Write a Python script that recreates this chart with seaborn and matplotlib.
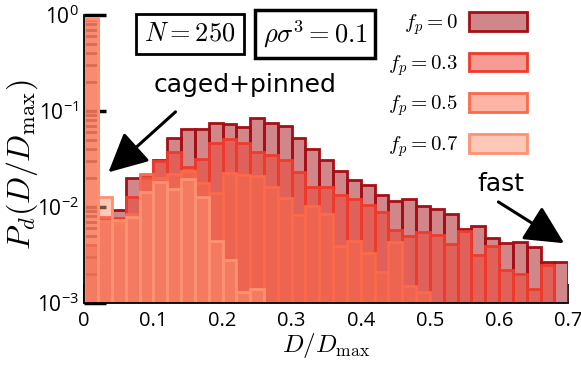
import numpy as np
import pandas as pd
import matplotlib
matplotlib.use("Agg")
import matplotlib.pyplot as plt
import seaborn as sns

# bin heights, bins of width 0.02 from 0 to 0.7
edges = [round(0.02 * i, 2) for i in range(36)]
centers = [(a + b) / 2 for a, b in zip(edges[:-1], edges[1:])]

p_fp0 = [0.004, 0.0075, 0.0093, 0.020, 0.0206, 0.031, 0.052, 0.065, 0.065, 0.075,
         0.073, 0.068, 0.084, 0.075, 0.070, 0.052, 0.040, 0.031, 0.024, 0.019,
         0.0169, 0.0135, 0.0116, 0.0121, 0.0103, 0.0095, 0.0085, 0.0059, 0.0063, 0.0048,
         0.0042, 0.0043, 0.0038, 0.0027, 0.0027]
p_fp3 = [0.88, 0.0079, 0.0077, 0.0127, 0.0200, 0.030, 0.037, 0.026, 0.0316, 0.047,
         0.051, 0.047, 0.037, 0.035, 0.031, 0.023, 0.0162, 0.0162, 0.0133, 0.0121,
         0.0105, 0.0089, 0.0057, 0.0050, 0.0055, 0.0051, 0.0041, 0.0056, 0.0032, 0.0039,
         0.0022, 0.0020, 0.0014, 0.0025, 0.0]
p_fp5 = [0.90, 0.0072, 0.0069, 0.0085, 0.022, 0.020, 0.022, 0.024, 0.018, 0.014,
         0.0225, 0.0216, 0.021, 0.0162, 0.0124, 0.0083, 0.0103, 0.0085, 0.0039, 0.0044,
         0.0033, 0.0021, 0.0043, 0.0015, 0.0013, 0.0, 0.0, 0.0, 0.0, 0.0,
         0.0, 0.0, 0.0, 0.0, 0.0]
p_fp7 = [0.92, 0.0127, 0.0074, 0.0079, 0.0144, 0.0183, 0.0154, 0.0194, 0.0127, 0.0044,
         0.0028, 0.0013, 0.0014, 0.0, 0.0, 0.0, 0.0, 0.0, 0.0, 0.0,
         0.0, 0.0, 0.0, 0.0, 0.0, 0.0, 0.0, 0.0, 0.0, 0.0,
         0.0, 0.0, 0.0, 0.0, 0.0]

labels = ["$f_p = 0$", "$f_p = 0.3$", "$f_p = 0.5$", "$f_p = 0.7$"]
colors = ["#a50f15", "#ef3b2c", "#fb6a4a", "#fc9272"]
series = [p_fp0, p_fp3, p_fp5, p_fp7]

sns.set_style("ticks")
plt.rcParams["font.family"] = ["Open Sans", "DejaVu Sans"]
plt.rcParams["mathtext.fontset"] = "cm"
for k in ["text.color", "axes.labelcolor", "xtick.color", "ytick.color", "axes.edgecolor"]:
    plt.rcParams[k] = "black"

fig = plt.figure(figsize=(5.81, 3.66), dpi=100)
ax = fig.add_axes([0.145, 0.172, 0.833, 0.787])
ax.set_axisbelow(True)

for vals, lab, col in zip(series, labels, colors):
    df = pd.DataFrame({"x": centers, "w": vals})
    df = df[df["w"] > 0]
    sns.histplot(data=df, x="x", weights="w", bins=edges, ax=ax, stat="count",
                 color=col, alpha=0.5, edgecolor=col, linewidth=2, label=lab)

ax.set_yscale("log")
ax.set_ylim(1e-3, 1)
ax.set_xlim(0, 0.7)
ax.set_xticks(np.arange(0, 0.71, 0.1))
ax.set_xticklabels(["0", "0.1", "0.2", "0.3", "0.4", "0.5", "0.6", "0.7"])
ax.tick_params(axis="x", direction="in", length=14, width=1.2, labelsize=14.5, pad=6)
ax.tick_params(axis="y", which="major", direction="in", length=16, width=2.5, labelsize=15, pad=4)
ax.tick_params(axis="y", which="minor", direction="in", length=10, width=2)
sns.despine(ax=ax)
for s in ["left", "bottom"]:
    ax.spines[s].set_linewidth(1.3)

ax.set_xlabel("$D/D_{\\max}$", fontsize=18, labelpad=0)
ax.set_ylabel("$P_d(D/D_{\\max})$", fontsize=23)
ax.yaxis.set_label_coords(-0.092, 0.48)

leg = ax.legend(loc="upper right", bbox_to_anchor=(527 / 581, 1 - 12 / 366),
                bbox_transform=fig.transFigure, frameon=False, markerfirst=False,
                fontsize=15, handlelength=2.8, handleheight=1.0, labelspacing=0.75,
                handletextpad=0.5, borderpad=0, borderaxespad=0)

fig.text(190 / 581, 1 - 34 / 366, "$N = 250$", fontsize=19, ha="center", va="center",
         bbox=dict(boxstyle="square,pad=0.3", fc="white", ec="black", lw=2))
fig.text(315 / 581, 1 - 34 / 366, "$\\rho\\sigma^3 = 0.1$", fontsize=19, ha="center", va="center",
         bbox=dict(boxstyle="square,pad=0.3", fc="white", ec="black", lw=2.5))

arrow = dict(arrowstyle="-|>,head_length=1.0,head_width=0.5", mutation_scale=24,
             color="black", lw=2.2, shrinkA=0, shrinkB=0)
ax.annotate("", xy=(0.035, 0.023), xytext=(0.132, 0.098), arrowprops=arrow)
ax.text(0.233, 0.187, "caged+pinned", fontsize=18, ha="center", va="center",
        family=["DejaVu Sans"])
ax.annotate("", xy=(0.694, 0.0042), xytext=(0.599, 0.0113), arrowprops=arrow)
ax.text(0.603, 0.0174, "fast", fontsize=18, ha="center", va="center",
        family=["DejaVu Sans"])

fig.savefig("out.png", dpi=100)
